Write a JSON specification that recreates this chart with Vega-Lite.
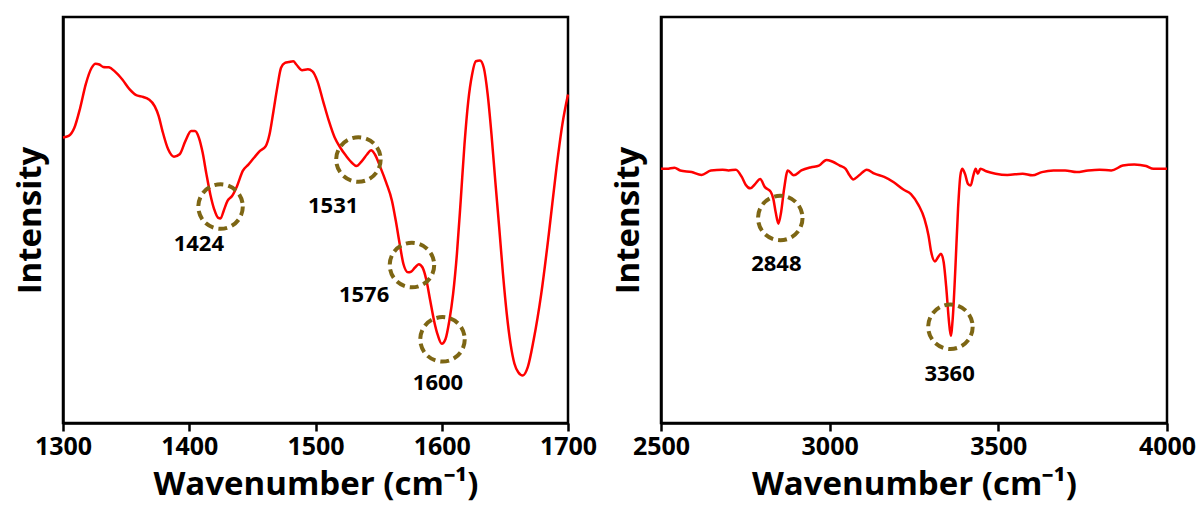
{
  "$schema": "https://vega.github.io/schema/vega-lite/v6.json",
  "background": "white",
  "padding": {"left": 12, "top": 15, "right": 5, "bottom": 2},
  "spacing": 12,
  "datasets": {
    "left": [
      {"wn": 1300, "v": 70.3}, {"wn": 1304.5, "v": 70.7}, {"wn": 1309, "v": 72.7}, {"wn": 1313.6, "v": 77.6},
      {"wn": 1318, "v": 83.4}, {"wn": 1322.7, "v": 87.5}, {"wn": 1325.8, "v": 88.5}, {"wn": 1328.8, "v": 88.3},
      {"wn": 1331.8, "v": 87.7}, {"wn": 1336.4, "v": 87.6}, {"wn": 1341, "v": 86.6}, {"wn": 1347, "v": 84.6},
      {"wn": 1353, "v": 82.1}, {"wn": 1357.6, "v": 80.8}, {"wn": 1363.6, "v": 80.3}, {"wn": 1368, "v": 79.7},
      {"wn": 1372.7, "v": 78.0}, {"wn": 1375.8, "v": 75.6}, {"wn": 1378.8, "v": 71.9}, {"wn": 1383.3, "v": 67.4},
      {"wn": 1387.9, "v": 65.6}, {"wn": 1392.4, "v": 66.2}, {"wn": 1397, "v": 69.5}, {"wn": 1401.5, "v": 71.9},
      {"wn": 1404.5, "v": 71.9}, {"wn": 1407.6, "v": 70.3}, {"wn": 1410.6, "v": 66.6}, {"wn": 1413.6, "v": 61.3},
      {"wn": 1416.7, "v": 56.3}, {"wn": 1419.7, "v": 52.7}, {"wn": 1422.7, "v": 50.6}, {"wn": 1424.8, "v": 50.4},
      {"wn": 1427.3, "v": 52.3}, {"wn": 1430.3, "v": 54.7}, {"wn": 1433.9, "v": 55.9}, {"wn": 1437.9, "v": 58.4},
      {"wn": 1442.4, "v": 62.1}, {"wn": 1447, "v": 63.7}, {"wn": 1451.5, "v": 65.4}, {"wn": 1456, "v": 67.0},
      {"wn": 1460.6, "v": 68.2}, {"wn": 1463.6, "v": 71.1}, {"wn": 1466.7, "v": 76.8}, {"wn": 1469.7, "v": 82.6},
      {"wn": 1472.7, "v": 87.5}, {"wn": 1475.8, "v": 88.7}, {"wn": 1478.8, "v": 88.9}, {"wn": 1482.4, "v": 89.1},
      {"wn": 1484.8, "v": 88.3}, {"wn": 1489.4, "v": 86.9}, {"wn": 1494, "v": 87.1}, {"wn": 1497.6, "v": 86.6},
      {"wn": 1501.5, "v": 84.2}, {"wn": 1506, "v": 79.3}, {"wn": 1510.6, "v": 74.4}, {"wn": 1515.2, "v": 70.3},
      {"wn": 1519.7, "v": 67.8}, {"wn": 1524.2, "v": 65.8}, {"wn": 1528.8, "v": 64.1}, {"wn": 1532.4, "v": 63.3},
      {"wn": 1536.4, "v": 64.4}, {"wn": 1540.9, "v": 66.2}, {"wn": 1544, "v": 67.2}, {"wn": 1547, "v": 66.2},
      {"wn": 1551.5, "v": 62.9}, {"wn": 1556, "v": 59.2}, {"wn": 1560.6, "v": 54.7}, {"wn": 1563.6, "v": 49.8},
      {"wn": 1566.7, "v": 44.1}, {"wn": 1569.7, "v": 39.1}, {"wn": 1573.3, "v": 37.1}, {"wn": 1575.8, "v": 37.3},
      {"wn": 1578.8, "v": 38.3}, {"wn": 1581.8, "v": 39.1}, {"wn": 1584.8, "v": 38.3}, {"wn": 1587.9, "v": 35.1},
      {"wn": 1590.9, "v": 30.1}, {"wn": 1593.9, "v": 25.2}, {"wn": 1597, "v": 21.5}, {"wn": 1600, "v": 19.5},
      {"wn": 1603, "v": 20.7}, {"wn": 1606, "v": 25.2}, {"wn": 1609, "v": 31.8}, {"wn": 1612, "v": 41.6},
      {"wn": 1615, "v": 54.7}, {"wn": 1618, "v": 68.6}, {"wn": 1621, "v": 79.3}, {"wn": 1624, "v": 85.8},
      {"wn": 1627, "v": 89.1}, {"wn": 1630.3, "v": 89.3}, {"wn": 1633.3, "v": 87.5}, {"wn": 1636.4, "v": 80.9},
      {"wn": 1639.4, "v": 71.1}, {"wn": 1642.4, "v": 59.6}, {"wn": 1645.5, "v": 48.2}, {"wn": 1648.5, "v": 36.7},
      {"wn": 1651.5, "v": 26.9}, {"wn": 1654.5, "v": 19.5}, {"wn": 1657.6, "v": 14.6}, {"wn": 1660.6, "v": 12.5},
      {"wn": 1664.2, "v": 11.7}, {"wn": 1668.2, "v": 13.8}, {"wn": 1672.7, "v": 20.3}, {"wn": 1678.8, "v": 31.8},
      {"wn": 1684.8, "v": 46.5}, {"wn": 1690.9, "v": 62.9}, {"wn": 1695.5, "v": 73.5}, {"wn": 1700, "v": 80.9}
    ],
    "right": [
      {"wn": 2500, "v": 62.6}, {"wn": 2517, "v": 62.6}, {"wn": 2540, "v": 62.9}, {"wn": 2557, "v": 62.2},
      {"wn": 2591, "v": 61.8}, {"wn": 2620, "v": 61.1}, {"wn": 2648, "v": 62.2}, {"wn": 2682.5, "v": 62.4},
      {"wn": 2700, "v": 62.2}, {"wn": 2722, "v": 62.4}, {"wn": 2739.5, "v": 60.6}, {"wn": 2751, "v": 58.7},
      {"wn": 2764.6, "v": 57.8}, {"wn": 2779.5, "v": 58.9}, {"wn": 2794, "v": 60.1}, {"wn": 2808, "v": 58.1},
      {"wn": 2825, "v": 57.0}, {"wn": 2833, "v": 55.2}, {"wn": 2840, "v": 51.9}, {"wn": 2848, "v": 49.1},
      {"wn": 2856, "v": 51.9}, {"wn": 2865, "v": 57.7}, {"wn": 2876, "v": 62.2}, {"wn": 2893.5, "v": 61.0},
      {"wn": 2916, "v": 62.2}, {"wn": 2945, "v": 63.0}, {"wn": 2968, "v": 63.4}, {"wn": 2990.5, "v": 64.8},
      {"wn": 3007.6, "v": 64.4}, {"wn": 3030, "v": 63.4}, {"wn": 3047.5, "v": 62.6}, {"wn": 3059, "v": 61.0},
      {"wn": 3070, "v": 60.0}, {"wn": 3087.5, "v": 61.0}, {"wn": 3110, "v": 62.4}, {"wn": 3133, "v": 61.4},
      {"wn": 3161.6, "v": 60.6}, {"wn": 3190, "v": 59.3}, {"wn": 3218.6, "v": 57.5}, {"wn": 3241, "v": 56.4},
      {"wn": 3264, "v": 53.6}, {"wn": 3281, "v": 50.3}, {"wn": 3293, "v": 46.2}, {"wn": 3301, "v": 42.1},
      {"wn": 3312, "v": 39.8}, {"wn": 3321, "v": 40.8}, {"wn": 3330, "v": 41.7}, {"wn": 3338, "v": 39.6},
      {"wn": 3346, "v": 33.0}, {"wn": 3353, "v": 25.6}, {"wn": 3359, "v": 21.5}, {"wn": 3364.7, "v": 25.6},
      {"wn": 3372.6, "v": 38.0}, {"wn": 3380.6, "v": 52.8}, {"wn": 3387.5, "v": 61.0}, {"wn": 3393, "v": 62.6},
      {"wn": 3401, "v": 61.4}, {"wn": 3410, "v": 58.9}, {"wn": 3418, "v": 58.5}, {"wn": 3426, "v": 61.0},
      {"wn": 3433, "v": 62.6}, {"wn": 3439, "v": 61.4}, {"wn": 3447, "v": 62.6}, {"wn": 3464, "v": 62.0},
      {"wn": 3492, "v": 61.4}, {"wn": 3526.6, "v": 61.1}, {"wn": 3572, "v": 61.4}, {"wn": 3601, "v": 61.0},
      {"wn": 3629, "v": 61.8}, {"wn": 3663.5, "v": 62.2}, {"wn": 3698, "v": 62.2}, {"wn": 3732, "v": 61.8},
      {"wn": 3766, "v": 62.2}, {"wn": 3800, "v": 62.4}, {"wn": 3834.6, "v": 62.2}, {"wn": 3869, "v": 63.4},
      {"wn": 3903, "v": 63.7}, {"wn": 3938, "v": 63.3}, {"wn": 3960, "v": 62.6}, {"wn": 3983, "v": 62.6},
      {"wn": 4000, "v": 62.6}
    ],
    "leftPeaks": [
      {"label": "1424", "cx": 1424.8, "cy": 53.3, "tx": 1407.6, "ty": 44.2},
      {"label": "1531", "cx": 1534, "cy": 64.9, "tx": 1514, "ty": 53.4},
      {"label": "1576", "cx": 1576.4, "cy": 38.9, "tx": 1538.5, "ty": 31.6},
      {"label": "1600", "cx": 1600.6, "cy": 20.6, "tx": 1597, "ty": 9.8}
    ],
    "rightPeaks": [
      {"label": "2848", "cx": 2853.6, "cy": 50.5, "tx": 2842, "ty": 39.2},
      {"label": "3360", "cx": 3358, "cy": 23.7, "tx": 3355.5, "ty": 12.1}
    ]
  },
  "hconcat": [
    {
      "width": 505,
      "height": 406,
      "layer": [
        {
          "data": {"name": "left"},
          "mark": {"type": "line", "color": "#ff0000", "strokeWidth": 2.5, "interpolate": "monotone"},
          "encoding": {
            "x": {"field": "wn", "type": "quantitative", "scale": {"domain": [1300, 1700], "nice": false}, "axis": {"values": [1300, 1400, 1500, 1600, 1700], "format": "d", "title": "Wavenumber (cm⁻¹)"}},
            "y": {"field": "v", "type": "quantitative", "scale": {"domain": [0, 100], "nice": false}, "axis": {"title": "Intensity", "labels": false, "ticks": false, "titlePadding": 16}}
          }
        },
        {
          "data": {"name": "leftPeaks"},
          "mark": {"type": "point", "shape": "circle", "size": 1980, "filled": false, "stroke": "#7d6614", "strokeWidth": 4, "strokeDash": [9, 5], "opacity": 1},
          "encoding": {
            "x": {"field": "cx", "type": "quantitative"},
            "y": {"field": "cy", "type": "quantitative"}
          }
        },
        {
          "data": {"name": "leftPeaks"},
          "mark": {"type": "text", "font": "Open Sans", "fontWeight": "bold", "fontSize": 22, "color": "black", "baseline": "middle", "align": "center"},
          "encoding": {
            "x": {"field": "tx", "type": "quantitative"},
            "y": {"field": "ty", "type": "quantitative"},
            "text": {"field": "label"}
          }
        }
      ]
    },
    {
      "width": 506,
      "height": 406,
      "layer": [
        {
          "data": {"name": "right"},
          "mark": {"type": "line", "color": "#ff0000", "strokeWidth": 2.5, "interpolate": "monotone"},
          "encoding": {
            "x": {"field": "wn", "type": "quantitative", "scale": {"domain": [2500, 4000], "nice": false}, "axis": {"values": [2500, 3000, 3500, 4000], "format": "d", "title": "Wavenumber (cm⁻¹)"}},
            "y": {"field": "v", "type": "quantitative", "scale": {"domain": [0, 100], "nice": false}, "axis": {"title": "Intensity", "labels": false, "ticks": false, "titlePadding": 16}}
          }
        },
        {
          "data": {"name": "rightPeaks"},
          "mark": {"type": "point", "shape": "circle", "size": 1980, "filled": false, "stroke": "#7d6614", "strokeWidth": 4, "strokeDash": [9, 5], "opacity": 1},
          "encoding": {
            "x": {"field": "cx", "type": "quantitative"},
            "y": {"field": "cy", "type": "quantitative"}
          }
        },
        {
          "data": {"name": "rightPeaks"},
          "mark": {"type": "text", "font": "Open Sans", "fontWeight": "bold", "fontSize": 22, "color": "black", "baseline": "middle", "align": "center"},
          "encoding": {
            "x": {"field": "tx", "type": "quantitative"},
            "y": {"field": "ty", "type": "quantitative"},
            "text": {"field": "label"}
          }
        }
      ]
    }
  ],
  "config": {
    "font": "Open Sans",
    "view": {"stroke": "black", "strokeWidth": 2.5},
    "axis": {
      "grid": false,
      "domainColor": "black",
      "domainWidth": 2.5,
      "tickColor": "black",
      "tickWidth": 2.5,
      "tickSize": 8,
      "labelFont": "Open Sans",
      "labelFontWeight": "bold",
      "labelFontSize": 25,
      "labelColor": "black",
      "labelPadding": 3,
      "labelFlush": false,
      "titleFont": "Open Sans",
      "titleFontWeight": "bold",
      "titleFontSize": 33,
      "titleColor": "black",
      "titlePadding": 9
    }
  }
}
